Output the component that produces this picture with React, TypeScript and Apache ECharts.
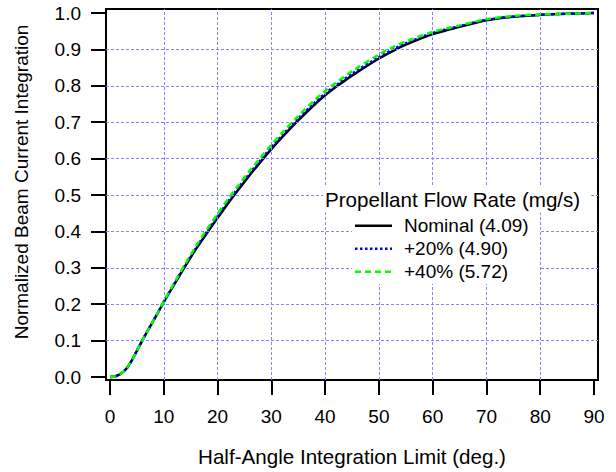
import React, { useEffect, useRef } from "react";
import * as echarts from "echarts";

const angles = [0, 1, 2, 3, 4, 5, 6, 7, 8, 9, 10, 12, 14, 16, 18, 20, 22, 24, 26, 28, 30, 32, 35, 38, 40, 42.5, 45, 50, 53, 55, 60, 65, 70, 75, 80, 85, 90];
const nominal = [0, 0.002, 0.009, 0.022, 0.044, 0.072, 0.1, 0.127, 0.153, 0.179, 0.206, 0.256, 0.305, 0.352, 0.395, 0.437, 0.478, 0.517, 0.555, 0.591, 0.626, 0.659, 0.705, 0.748, 0.774, 0.802, 0.828, 0.875, 0.899, 0.913, 0.942, 0.962, 0.98, 0.99, 0.995, 0.998, 1.0];
const plus20 = [0, 0.002, 0.009, 0.022, 0.044, 0.072, 0.1, 0.127, 0.153, 0.18, 0.207, 0.258, 0.308, 0.355, 0.399, 0.442, 0.483, 0.522, 0.56, 0.596, 0.631, 0.664, 0.71, 0.753, 0.779, 0.807, 0.833, 0.879, 0.903, 0.917, 0.945, 0.964, 0.981, 0.99, 0.995, 0.998, 1.0];
const plus40 = [0, 0.002, 0.009, 0.022, 0.044, 0.072, 0.1, 0.127, 0.153, 0.18, 0.208, 0.26, 0.311, 0.36, 0.405, 0.448, 0.49, 0.529, 0.567, 0.603, 0.638, 0.671, 0.717, 0.76, 0.786, 0.814, 0.84, 0.886, 0.909, 0.922, 0.948, 0.966, 0.983, 0.992, 0.996, 0.998, 1.0];

const seriesNames = ["Nominal (4.09)", "+20% (4.90)", "+40% (5.72)"];
const seriesColors = ["#000000", "#0000ff", "#00ff00"];
const seriesDashes: any[] = ["solid", [2.5, 2.5], [6, 4]];
const xTicks = [0, 10, 20, 30, 40, 50, 60, 70, 80, 90];
const yTicks = [0, 0.1, 0.2, 0.3, 0.4, 0.5, 0.6, 0.7, 0.8, 0.9, 1.0];
const xGrid = [10, 20, 30, 40, 50, 60, 70, 80];
const yGrid = [0.1, 0.2, 0.3, 0.4, 0.5, 0.6, 0.7, 0.8, 0.9];
const legendTitle = "Propellant Flow Rate (mg/s)";
const xTitle = "Half-Angle Integration Limit (deg.)";
const yTitle = "Normalized Beam Current Integration";

const FONT = "'Liberation Sans', Arial, Helvetica, sans-serif";

function pairs(ys: number[]) {
  return angles.map((a, i) => [a, ys[i]]);
}

export default function App() {
  const ref = useRef<HTMLDivElement>(null);
  useEffect(() => {
    if (!ref.current) return;
    const chart = echarts.init(ref.current, null, { renderer: "svg" });
    const gridStyle = { color: "#8585ff", type: [3, 2] as any, width: 1 };
    const dataSets = [nominal, plus20, plus40];

    const legendRowY = [225.7, 248.7, 271.7];
    const legendItems: any[] = [];
    seriesNames.forEach((name, i) => {
      legendItems.push({
        type: "line",
        z: 101,
        shape: { x1: 355, y1: legendRowY[i], x2: 392, y2: legendRowY[i] },
        style: {
          stroke: seriesColors[i],
          lineWidth: 2.5,
          lineDash: seriesDashes[i] === "solid" ? null : seriesDashes[i],
        },
      });
      legendItems.push({
        type: "text",
        z: 101,
        x: 404,
        y: legendRowY[i],
        style: {
          text: name,
          fontSize: 19,
          fontFamily: FONT,
          fill: "#000",
          align: "left",
          verticalAlign: "middle",
        },
      });
    });

    chart.setOption({
      animation: false,
      backgroundColor: "#fff",
      grid: {
        left: 106,
        right: 18,
        top: 9,
        bottom: 92,
        show: true,
        borderColor: "#000",
        borderWidth: 2,
      },
      xAxis: {
        type: "value",
        min: -0.744,
        max: 90.744,
        name: xTitle,
        nameLocation: "middle",
        nameGap: 66,
        nameTextStyle: { fontSize: 20.6, color: "#000", fontFamily: FONT },
        axisLine: { show: true, onZero: false, lineStyle: { color: "#000", width: 2 } },
        axisTick: { show: true, inside: false, length: 15, customValues: xTicks, lineStyle: { color: "#000", width: 2 } },
        axisLabel: { customValues: xTicks, margin: 27, fontSize: 19, color: "#000", fontFamily: FONT },
        splitLine: { show: false },
      },
      yAxis: {
        type: "value",
        min: -0.0082,
        max: 1.011,
        axisLine: { show: true, onZero: false, lineStyle: { color: "#000", width: 2 } },
        axisTick: { show: true, inside: false, length: 15, customValues: yTicks, lineStyle: { color: "#000", width: 2 } },
        axisLabel: {
          customValues: yTicks,
          margin: 25,
          fontSize: 19,
          color: "#000",
          fontFamily: FONT,
          formatter: (v: number) => v.toFixed(1),
        },
        splitLine: { show: false },
      },
      graphic: [
        {
          type: "text",
          x: 21,
          y: 182,
          rotation: Math.PI / 2,
          z: 100,
          style: {
            text: yTitle,
            fontSize: 19,
            fontFamily: FONT,
            fill: "#000",
            align: "center",
            verticalAlign: "middle",
          },
        },
        {
          type: "rect",
          z: 100,
          shape: { x: 352, y: 211, width: 188, height: 73 },
          style: { fill: "#fff" },
        },
        {
          type: "text",
          x: 323,
          y: 199,
          z: 100,
          style: {
            text: legendTitle,
            fontSize: 20.6,
            fontFamily: FONT,
            fill: "#000",
            align: "left",
            verticalAlign: "middle",
            backgroundColor: "#fff",
            padding: [3, 11, 3, 2],
          },
        },
        ...legendItems,
      ],
      series: [
        {
          name: "gridlines",
          type: "line",
          data: [],
          z: 1,
          silent: true,
          markLine: {
            silent: true,
            symbol: ["none", "none"],
            label: { show: false },
            lineStyle: gridStyle,
            emphasis: { disabled: true },
            data: [
              ...xGrid.map((v) => ({ xAxis: v })),
              ...yGrid.map((v) => ({ yAxis: v })),
            ],
          },
        },
        ...seriesNames.map((name, i) => ({
          name,
          type: "line",
          data: pairs(dataSets[i]),
          smooth: 0.3,
          showSymbol: false,
          symbol: "none",
          z: 3 + i,
          lineStyle: { color: seriesColors[i], width: 2.5, type: seriesDashes[i] },
          itemStyle: { color: seriesColors[i] },
        })),
      ],
    });
    return () => chart.dispose();
  }, []);
  return (
    <div
      ref={ref}
      style={{ position: "fixed", left: 0, top: 0, width: 616, height: 472, background: "#fff" }}
    />
  );
}
